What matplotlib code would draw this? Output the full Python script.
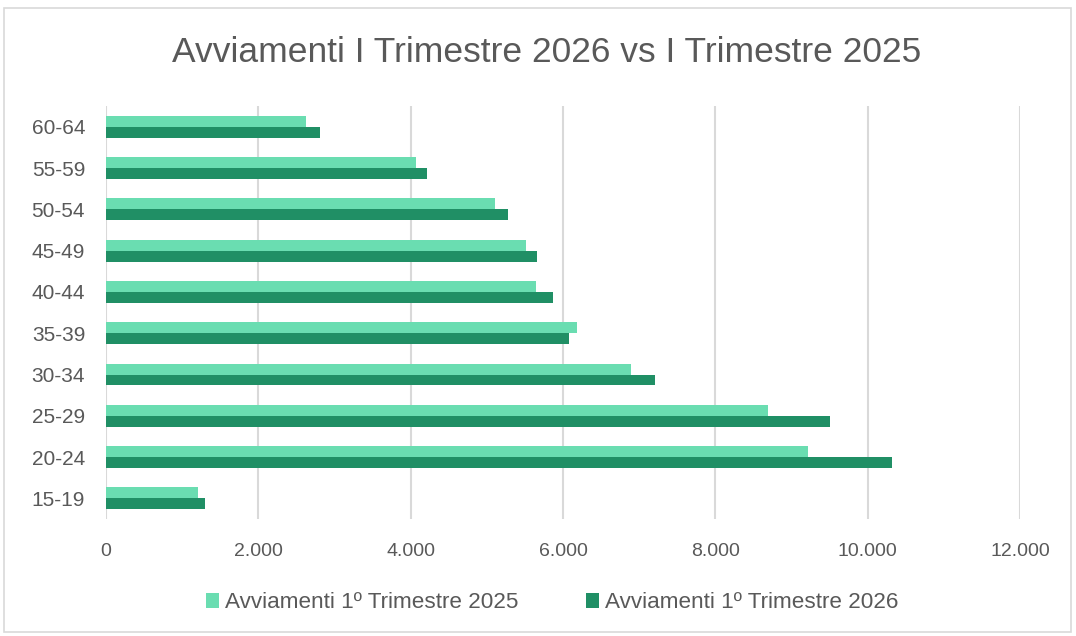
import matplotlib.pyplot as plt
import matplotlib.ticker as mticker
from matplotlib.patches import Rectangle
import numpy as np

plt.rcParams['font.family'] = ['Liberation Sans', 'DejaVu Sans']

categories = ["15-19", "20-24", "25-29", "30-34", "35-39", "40-44", "45-49", "50-54", "55-59", "60-64"]
v2025 = [1210, 9220, 8690, 6890, 6180, 5645, 5515, 5105, 4075, 2625]
v2026 = [1300, 10320, 9500, 7210, 6080, 5865, 5655, 5280, 4220, 2815]
labels = ["Avviamenti 1º Trimestre 2025", "Avviamenti 1º Trimestre 2026"]
title = "Avviamenti I Trimestre 2026 vs I Trimestre 2025"

c_light = "#6ADDB1"
c_dark = "#208F65"
txt = "#595959"

fig = plt.figure(figsize=(10.76, 6.36), dpi=100)
fig.patches.append(Rectangle((0.004, 0.006), 0.991, 0.981, transform=fig.transFigure,
                             fill=False, edgecolor="#d9d9d9", linewidth=1.2))
ax = fig.add_axes([0.0985, 0.184, 0.8494, 0.649])

y = np.arange(len(categories))
h = 0.265
ax.barh(y + h / 2, v2025, height=h, color=c_light, label=labels[0], zorder=3)
ax.barh(y - h / 2, v2026, height=h, color=c_dark, label=labels[1], zorder=3)

ax.set_xlim(0, 12000)
ax.set_ylim(-0.5, len(categories) - 0.5)
ax.set_xticks(np.arange(0, 12001, 2000))
ax.xaxis.set_major_formatter(mticker.FuncFormatter(lambda v, p: f"{int(v):,}".replace(",", ".")))
ax.set_yticks(y)
ax.set_yticklabels(categories)
ax.grid(axis="x", color="#d9d9d9", linewidth=1.5, zorder=0)
for s in ax.spines.values():
    s.set_visible(False)
ax.tick_params(axis="x", length=0, labelsize=14, colors=txt, pad=17)
ax.tick_params(axis="y", length=0, labelsize=15, colors=txt, pad=15)

fig.text(0.508, 0.918, title, ha="center", va="center", fontsize=25.5, color=txt)
fig.legend(loc="center", bbox_to_anchor=(0.513, 0.052), ncol=2, frameon=False,
           fontsize=16.2, labelcolor=txt, handlelength=0.6, handleheight=0.6,
           handletextpad=0.25, columnspacing=3.0)

fig.savefig("out.png", dpi=100)
